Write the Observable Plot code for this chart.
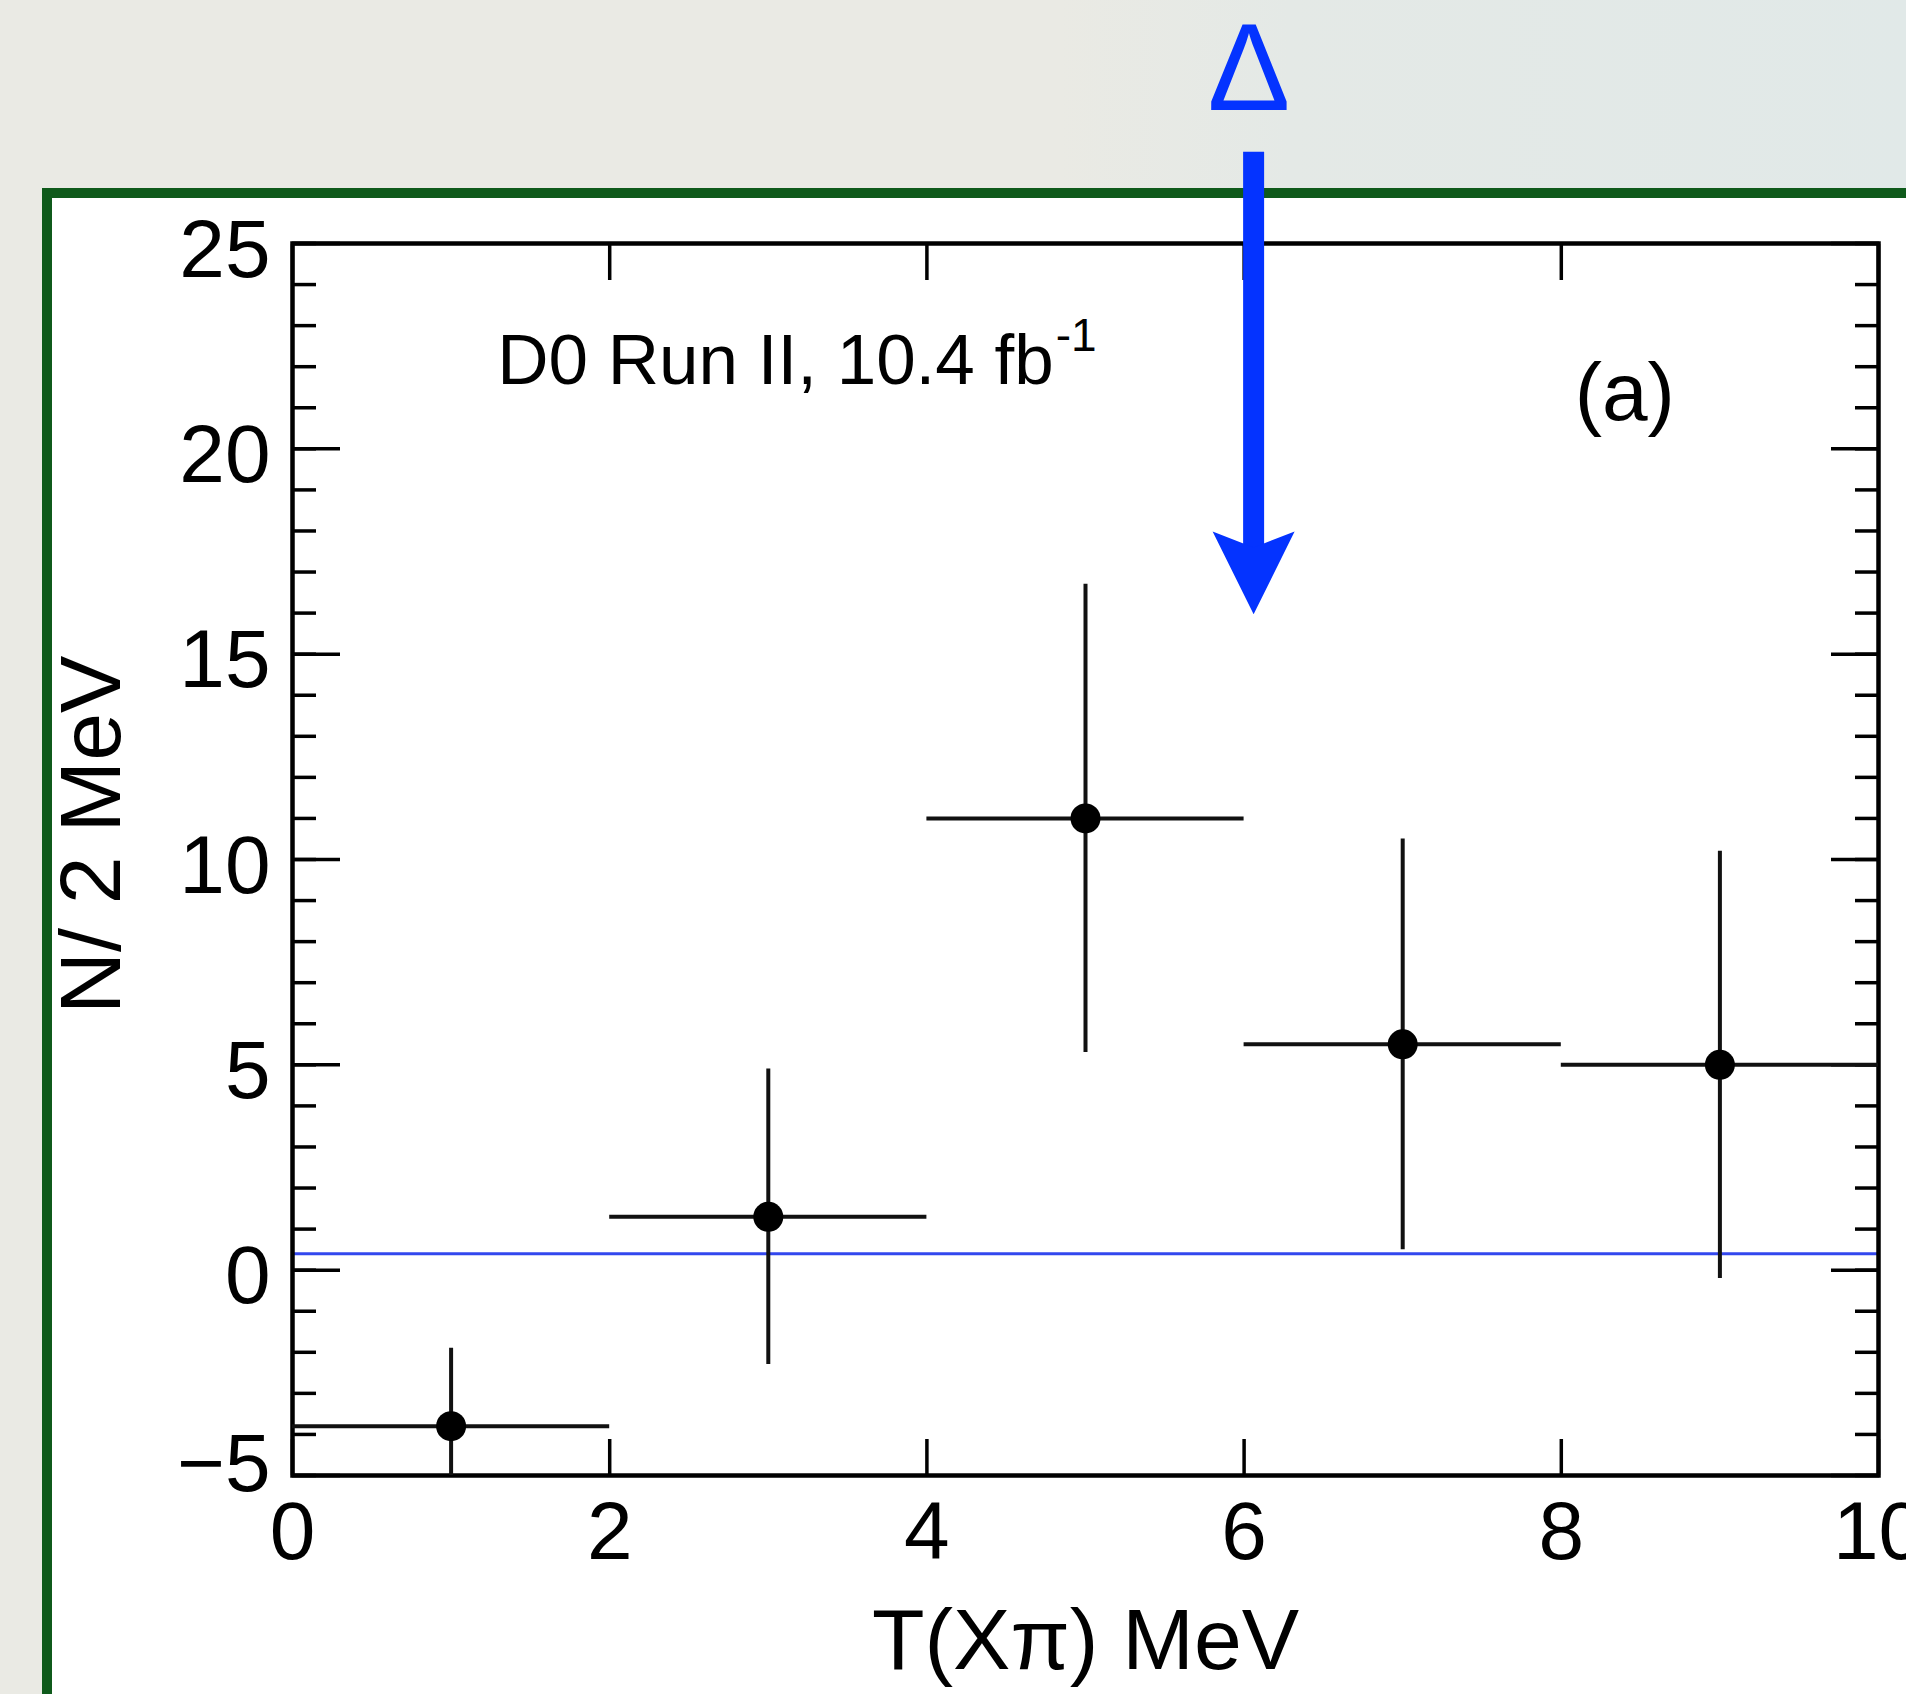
<!DOCTYPE html>
<html>
<head>
<meta charset="utf-8">
<script src="https://cdn.jsdelivr.net/npm/d3@7"></script>
<script src="https://cdn.jsdelivr.net/npm/@observablehq/plot@0.6"></script>
<style>
  html, body { margin: 0; padding: 0; }
  body {
    width: 1906px; height: 1694px; overflow: hidden; position: relative;
    background: linear-gradient(90deg, #eaeae4 0px, #eaeae4 1060px, #e4e9e6 1290px, #e1e9e8 1906px);
    font-family: "Liberation Sans", Arial, Helvetica, sans-serif;
  }
  #panel {
    position: absolute; left: 42px; top: 188px; width: 1920px; height: 1600px;
    background: #ffffff; border: 10px solid #0f5a1b; box-sizing: border-box;
  }
  #chart { position: absolute; left: 0; top: 0; }
</style>
</head>
<body>
<div id="panel"></div>
<div id="chart"></div>
<script>
// ---- data ----
const binCenters = [1, 3, 5, 7, 9];
const binLow     = [0, 2, 4, 6, 8];
const binHigh    = [2, 4, 6, 8, 10];
const counts     = [-3.8, 1.3, 11.0, 5.5, 5.0];
const errLow     = [-5.7, -2.3, 5.3, 0.5, -0.2];
const errHigh    = [-1.9, 4.9, 16.7, 10.5, 10.2];
const backgroundLevel = [0.4];
const deltaPosition = [6.06];

const xMajorTicks = [0, 2, 4, 6, 8, 10];
const yMajorTicks = [-5, 0, 5, 10, 15, 20, 25];
const yMinorTicks = d3.range(-5, 26, 1);

const xTitle = "T(Xπ) MeV";
const yTitle = "N/ 2 MeV";
const expLabel = "D0 Run II, 10.4 fb";
const expSup = "-1";
const panelLabel = "(a)";
const deltaLabel = "Δ";

const points = binCenters.map((x, i) => ({
  x, x0: binLow[i], x1: binHigh[i], y: counts[i], lo: errLow[i], hi: errHigh[i]
}));
const arrowData = deltaPosition.map(x => ({x}));

const blue = "#0433ff";
const font = "Liberation Sans, Arial, Helvetica, sans-serif";

// stealth arrowhead symbol (tip at origin, pointing down)
const stealthHead = {
  draw(context, size) {
    const r = Math.sqrt(size / Math.PI);
    context.moveTo(0, 0);
    context.lineTo(-r, -2.02 * r);
    context.lineTo(0, -1.63 * r);
    context.lineTo(r, -2.02 * r);
    context.closePath();
  }
};

const chart = Plot.plot({
  width: 1906,
  height: 1694,
  marginLeft: 292,
  marginRight: 28,
  marginTop: 243,
  marginBottom: 219,
  x: {domain: [0, 10]},
  y: {domain: [-5, 25]},
  style: {background: "transparent", fontFamily: font, overflow: "visible", color: "#000"},
  marks: [
    // background fit line
    Plot.ruleY(backgroundLevel, {stroke: "#3347ee", strokeWidth: 3}),
    // ticks (inward)
    Plot.axisX({ticks: xMajorTicks, anchor: "bottom", tickSize: -36, strokeWidth: 3.5, tickFormat: () => "", label: null}),
    Plot.axisX({ticks: xMajorTicks, anchor: "top", tickSize: -36, strokeWidth: 3.5, tickFormat: () => "", label: null}),
    Plot.axisY({ticks: yMinorTicks, anchor: "left", tickSize: -24, strokeWidth: 3.5, tickFormat: () => "", label: null}),
    Plot.axisY({ticks: yMinorTicks, anchor: "right", tickSize: -24, strokeWidth: 3.5, tickFormat: () => "", label: null}),
    Plot.axisY({ticks: yMajorTicks, anchor: "left", tickSize: -48, strokeWidth: 3.5, tickFormat: () => "", label: null}),
    Plot.axisY({ticks: yMajorTicks, anchor: "right", tickSize: -48, strokeWidth: 3.5, tickFormat: () => "", label: null}),
    // tick labels
    Plot.axisX({ticks: xMajorTicks, anchor: "bottom", tickSize: 0, tickPadding: 25, fontSize: 82, label: null}),
    Plot.axisY({ticks: yMajorTicks.filter(d => d !== -5), anchor: "left", tickSize: 0, tickPadding: 22, fontSize: 82, dy: 7, label: null}),
    Plot.axisY({ticks: yMajorTicks.filter(d => d === -5), anchor: "left", tickSize: 0, tickPadding: 22, fontSize: 82, dy: -11, label: null}),
    // frame
    Plot.frame({stroke: "#000", strokeWidth: 4.5}),
    // data: horizontal bin widths, vertical errors, points
    Plot.ruleY(points, {y: "y", x1: "x0", x2: "x1", stroke: "#111", strokeWidth: 4}),
    Plot.ruleX(points, {x: "x", y1: "lo", y2: "hi", stroke: "#111", strokeWidth: 4, clip: true}),
    Plot.dot(points, {x: "x", y: "y", r: 15, fill: "#000"}),
    // axis titles
    Plot.text([xTitle], {x: 5, frameAnchor: "bottom", dy: 193, lineAnchor: "bottom", fontSize: 86, fill: "#000"}),
    Plot.text([yTitle], {y: 10.6, frameAnchor: "left", dx: -200, rotate: -90, lineAnchor: "middle", textAnchor: "middle", fontSize: 86, fill: "#000"}),
    // annotations
    Plot.text([expLabel], {x: 4.80, y: 21.59, textAnchor: "end", lineAnchor: "bottom", fontSize: 71, fill: "#000"}),
    Plot.text([expSup], {x: 4.80, y: 23.17, dx: 2, textAnchor: "start", lineAnchor: "top", fontSize: 46, fill: "#000"}),
    Plot.text([panelLabel], {x: 8.40, y: 20.69, textAnchor: "middle", lineAnchor: "bottom", fontSize: 82, fill: "#000"}),
    // Delta arrow
    Plot.ruleX(arrowData, {x: "x", y1: 27.22, y2: 17.3, stroke: blue, strokeWidth: 21}),
    Plot.dot(arrowData, {x: "x", y: 15.97, r: 41, symbol: stealthHead, fill: blue, stroke: "none"}),
    Plot.text([deltaLabel], {x: 6.03, y: 28.25, lineAnchor: "bottom", textAnchor: "middle", fontSize: 124, fill: blue})
  ]
});
document.getElementById("chart").appendChild(chart);
</script>
</body>
</html>
